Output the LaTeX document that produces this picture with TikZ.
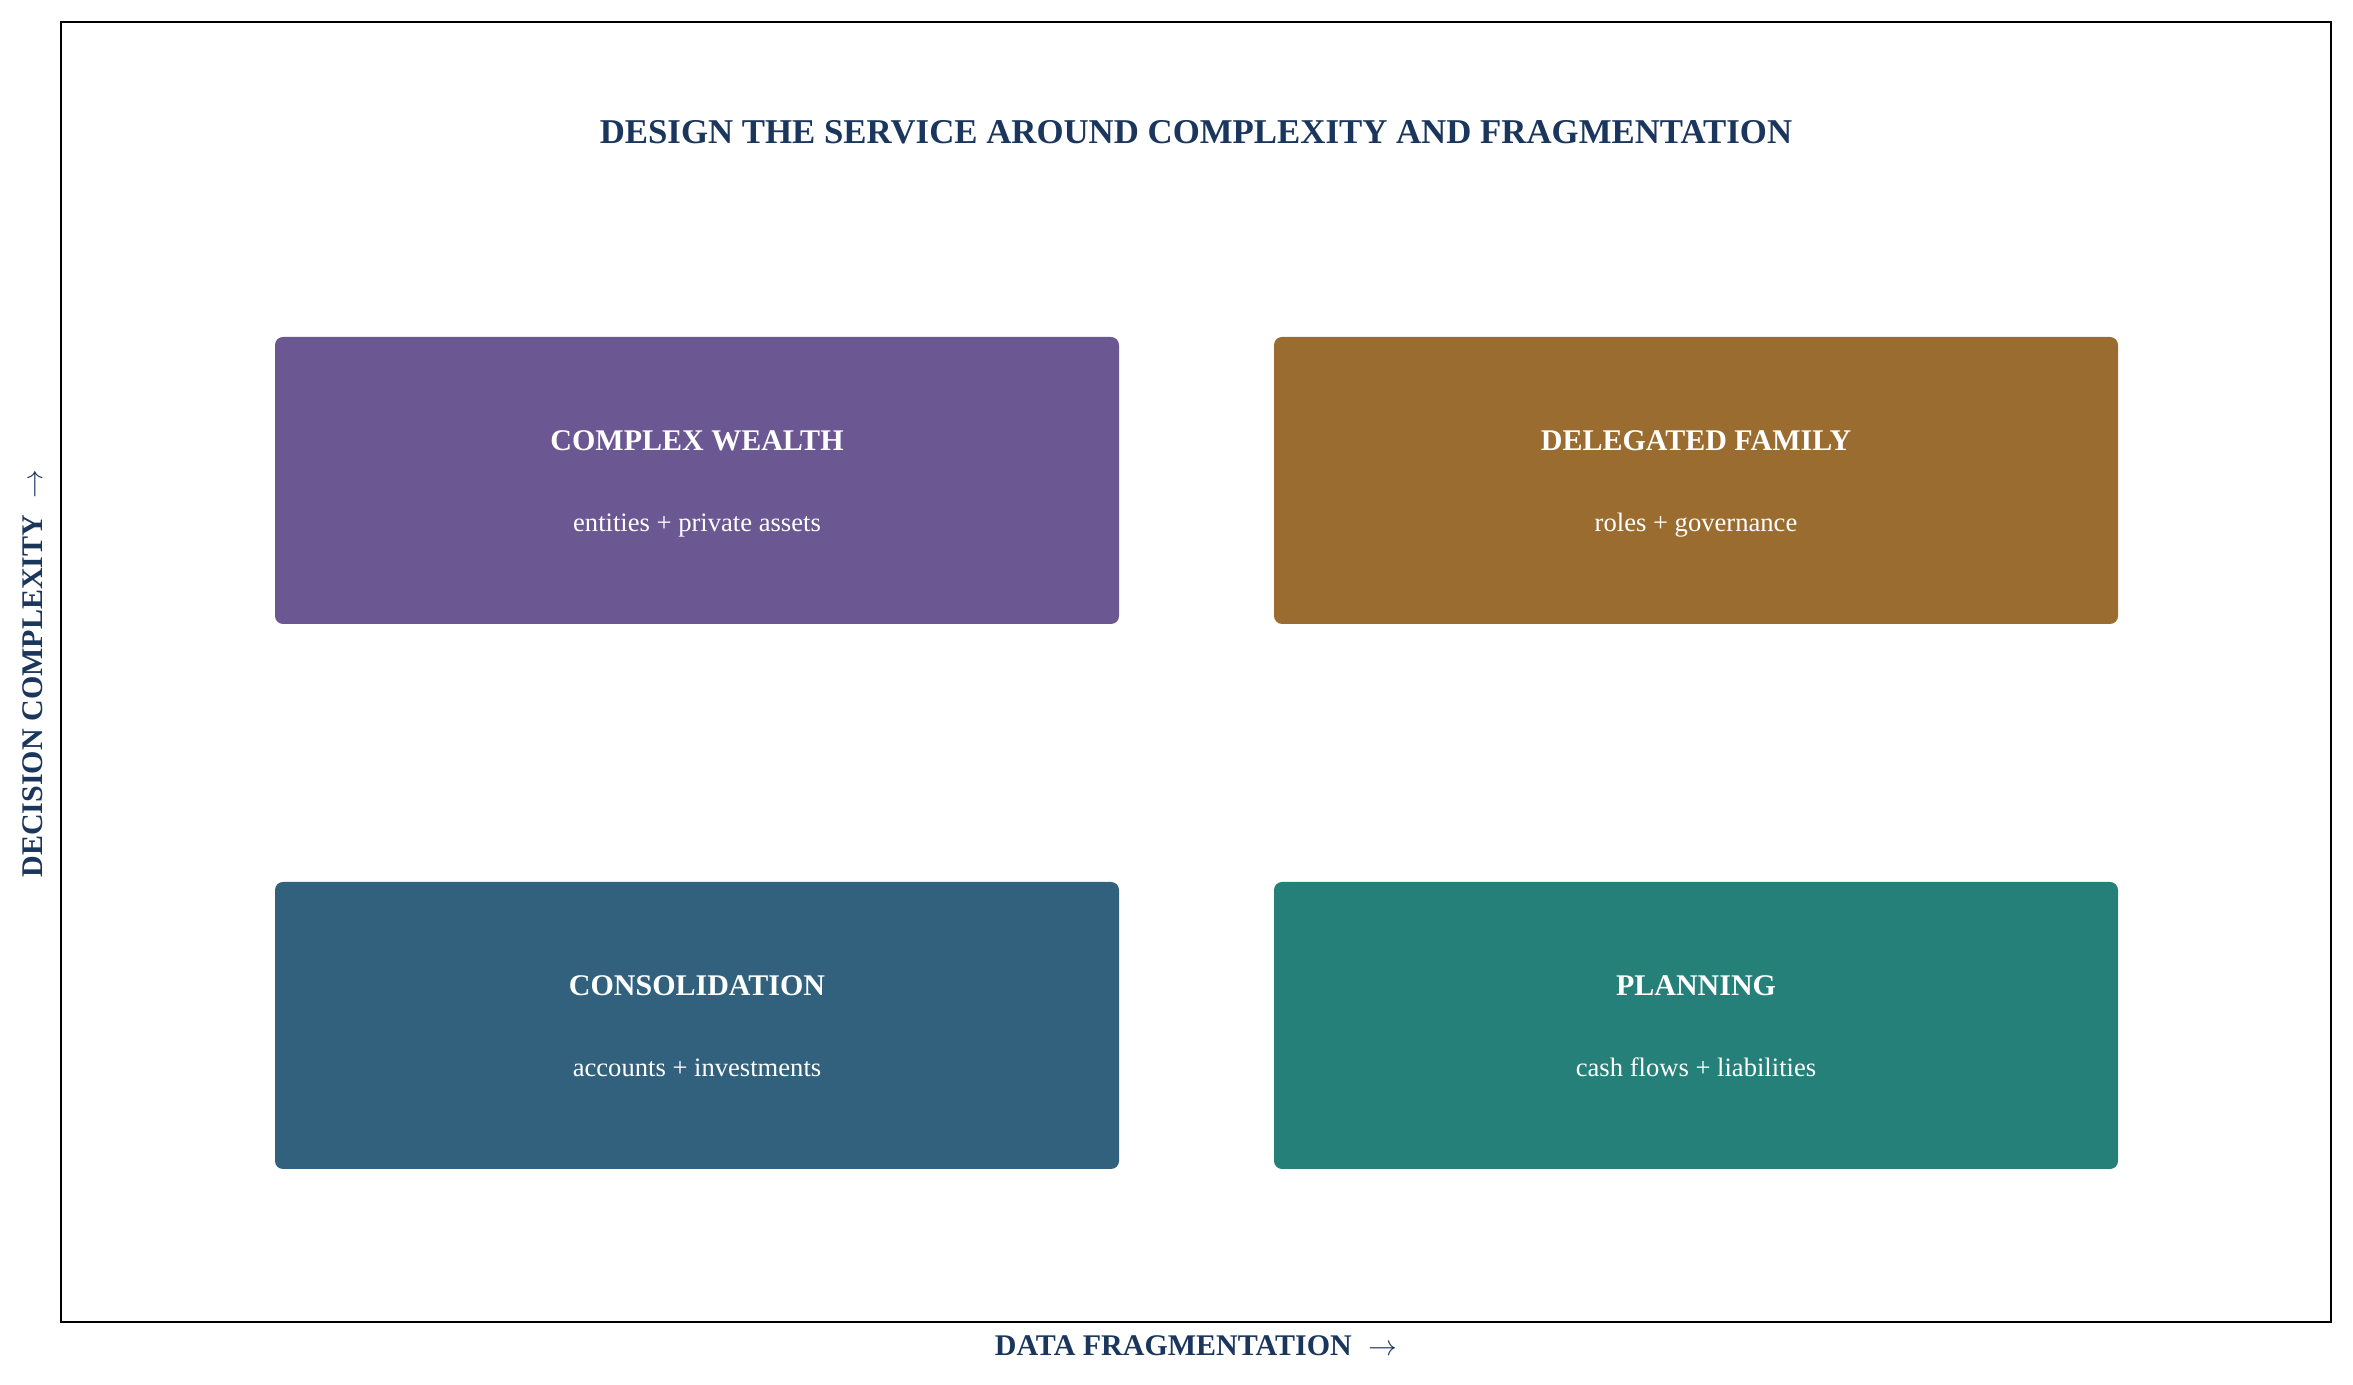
\documentclass[tikz,border=0pt]{standalone}
\usepackage{fontspec}
\setmainfont{Liberation Serif}
\usepackage{xcolor}
\usepackage{tikz}

\definecolor{navy}{HTML}{1B365D}
\definecolor{wealthpurple}{HTML}{6B5892}
\definecolor{familybrown}{HTML}{9A6C30}
\definecolor{consolblue}{HTML}{31617D}
\definecolor{planteal}{HTML}{25807A}

\tikzset{
  quadbox/.style={rounded corners=4pt, minimum width=422pt, minimum height=143.5pt, inner sep=0pt, draw=none},
  quadtitle/.style={anchor=base, text=white, font=\fontsize{15}{18}\selectfont\bfseries, inner sep=0pt},
  quadsub/.style={anchor=base, text=white, font=\fontsize{13.3}{16}\selectfont, inner sep=0pt},
  axislabel/.style={anchor=base, text=navy, font=\fontsize{15}{18}\selectfont\bfseries, inner sep=0pt}
}

\begin{document}
\begin{tikzpicture}[x=0.5pt, y=0.5pt]
    % Parameters (1 unit = 1 pixel of the canvas)
    \def\W{2353}
    \def\H{1385}
    \def\xL{697}  % centre of left column
    \def\xR{1696} % centre of right column

    % Canvas
    \useasboundingbox (0,0) rectangle (\W,\H);

    % Draw outer frame
    \draw[line width=1pt] (61,63) rectangle (2331,1363);

    % Add title
    \node[anchor=base, text=navy, font=\fontsize{17.4}{20}\selectfont\bfseries, inner sep=0pt]
        (title) at (1196,1241) {DESIGN THE SERVICE AROUND COMPLEXITY AND FRAGMENTATION};

    % Draw quadrants (top row)
    \node[quadbox, fill=wealthpurple] (wealth) at (\xL,904.5) {};
    \node[quadtitle] (wealthT) at (\xL,934.5) {COMPLEX WEALTH};
    \node[quadsub] (wealthS) at (\xL,853.5) {entities + private assets};

    \node[quadbox, fill=familybrown] (family) at (\xR,904.5) {};
    \node[quadtitle] (familyT) at (\xR,934.5) {DELEGATED FAMILY};
    \node[quadsub] (familyS) at (\xR,853.5) {roles + governance};

    % Draw quadrants (bottom row)
    \node[quadbox, fill=consolblue] (consol) at (\xL,359.5) {};
    \node[quadtitle] (consolT) at (\xL,389.5) {CONSOLIDATION};
    \node[quadsub] (consolS) at (\xL,308.5) {accounts + investments};

    \node[quadbox, fill=planteal] (plan) at (\xR,359.5) {};
    \node[quadtitle] (planT) at (\xR,389.5) {PLANNING};
    \node[quadsub] (planS) at (\xR,308.5) {cash flows + liabilities};

    % Add axis labels
    \node[axislabel] (xlab) at (1196,29) {DATA FRAGMENTATION\hspace{0.3em} $\rightarrow$};
    \node[axislabel, rotate=90] (ylab) at (42,711.5) {DECISION COMPLEXITY\hspace{0.3em} $\rightarrow$};

\end{tikzpicture}
\end{document}
